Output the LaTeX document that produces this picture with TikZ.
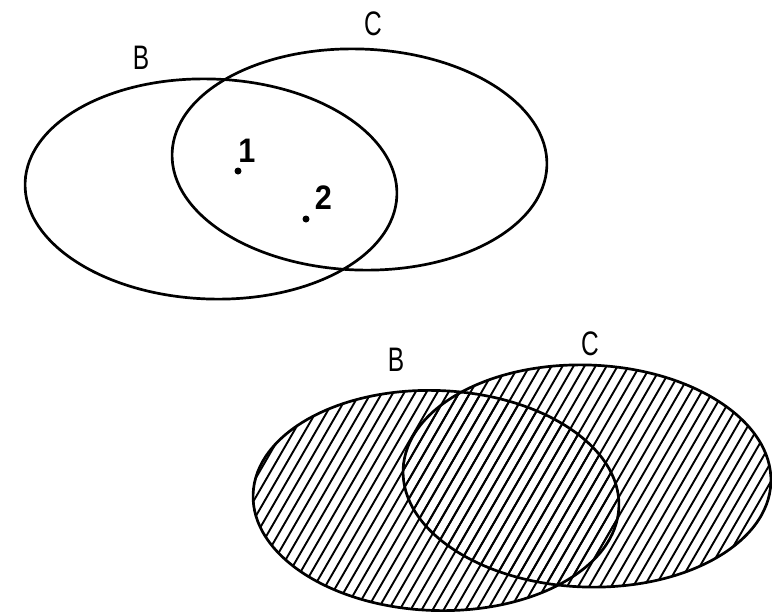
\documentclass[tikz,border=0pt]{standalone}
\usepackage{fontspec}
\newfontfamily\labfont{Liberation Sans}
\begin{document}
\begin{tikzpicture}[x=1pt,y=-1pt,
  ring/.style={line width=2.7pt},
  hatchline/.style={line width=1.9pt},
  setlabel/.style={font=\labfont\fontsize{34}{38}\selectfont, xscale=0.72, inner sep=0pt},
  numlabel/.style={font=\labfont\bfseries\fontsize{34}{38}\selectfont, xscale=0.9, inner sep=0pt},
  dot/.style={circle, fill, inner sep=0pt, minimum size=7pt}]
\useasboundingbox (0,0) rectangle (772,614);

% ---------- top diagram ----------
\draw[ring, rotate around={-2:(211,189)}] (211,189) ellipse [x radius=186pt, y radius=110pt];
\draw[ring, rotate around={-2:(359.5,159.5)}] (359.5,159.5) ellipse [x radius=187.5pt, y radius=110.5pt];
\node[setlabel] (topB) at (141,58) {B};
\node[setlabel] (topC) at (373,24) {C};
\node[dot] (p1) at (238,171) {};
\node[dot] (p2) at (306,219) {};
\node[numlabel] (n1) at (247,151) {1};
\node[numlabel] (n2) at (323.5,197.5) {2};

% ---------- bottom diagram (hatched) ----------
\begin{scope}
  \clip[rotate around={-2:(436,500.5)}] (436,500.5) ellipse [x radius=183pt, y radius=110pt];
  \foreach \i in {0,...,64} \draw[hatchline] ({80+11*\i},630) -- ++(185,-320);
\end{scope}
\begin{scope}
  \clip[rotate around={-2:(587,476)}] (587,476) ellipse [x radius=184pt, y radius=111pt];
  \foreach \i in {0,...,64} \draw[hatchline] ({80+11*\i},630) -- ++(185,-320);
\end{scope}
\draw[ring, rotate around={-2:(436,500.5)}] (436,500.5) ellipse [x radius=183pt, y radius=110pt];
\draw[ring, rotate around={-2:(587,476)}] (587,476) ellipse [x radius=184pt, y radius=111pt];
\node[setlabel] (botB) at (396,360) {B};
\node[setlabel] (botC) at (590,344) {C};
\end{tikzpicture}
\end{document}
